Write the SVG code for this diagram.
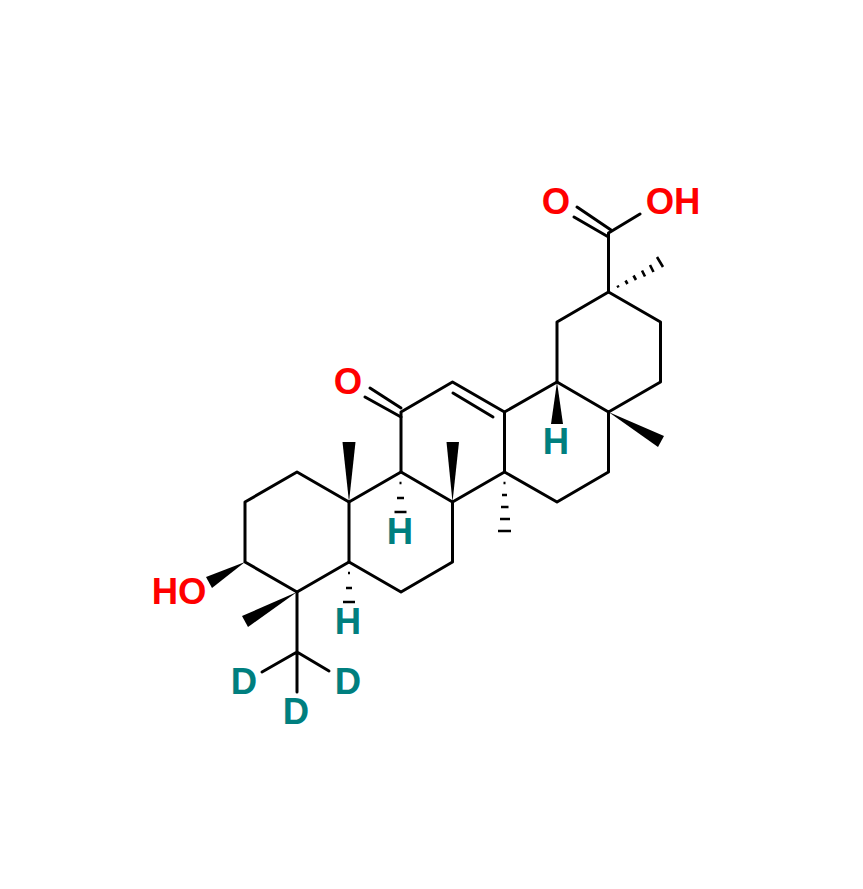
<svg xmlns="http://www.w3.org/2000/svg" width="863" height="889" viewBox="0 0 863 889">
<style>
.b{stroke:#000;stroke-width:3;fill:none;stroke-linecap:round;stroke-linejoin:round}
.h{stroke:#000;stroke-width:2.6;fill:none}
.w{fill:#000;stroke:none}
text{font-family:"Liberation Sans",Arial,sans-serif;font-weight:700;font-size:36.500px;text-anchor:middle}
.r{fill:#f00}
.t{fill:#007f7f}
</style>
<rect width="863" height="889" fill="#fff"/>
<g id="connectors">
<path class="b" d="M608.5 292L660.500 322L660.500 382L608.500 412L557 382L557 322L608.500 292"/>
<path class="b" d="M608.500 412L608.500 472L557 502L504.500 472L504.500 412L557 382"/>
<path class="b" d="M504.500 412L452.500 382L401 412L401 472L452.500 502L504.500 472"/>
<path class="b" d="M401 472L349 502L349 562L401 592L452.500 562L452.500 502"/>
<path class="b" d="M349 502L297 472L245 502L245 562L297 592L349 562"/>
<path class="b" d="M493 417L453 393"/>
<path class="b" d="M401 408L370 388M401 417L365 397"/>
<path class="b" d="M608.500 292L608.500 233L640 214"/>
<path class="b" d="M611 230L577 207M608.500 237L574 217"/>
<path class="b" d="M297 592L297 652L262 672M297 652L329 671M297 652L297 692"/>
<path class="w" d="M349 502L342.500 442L355.500 442Z"/>
<path class="w" d="M452.500 502L446.500 442L459 442Z"/>
<path class="w" d="M557 382L551 424L563 424Z"/>
<path class="w" d="M608.500 412L664 436L658 447Z"/>
<path class="w" d="M245 562L212 588L206 577Z"/>
<path class="w" d="M297 592L248 627L242 616Z"/>
<path class="h" d="M503.500 483h2M502 495h5M501 507h7.500M500 519h10M498 531h13"/>
<path class="h" d="M399.500 483h2M397 498h7M394.500 512h12"/>
<path class="h" d="M348 573h2M346 588h6M343 602h12"/>
<path class="h" d="M617.500 285.500l1 2M625.500 280.500l2 3.500M633.500 275.500l2.500 4.500M642 270.500l3 6M650 265l3.500 7M657 257l6 10"/>
</g>
<g id="n1"><text class="r" x="556" y="214">O</text></g>
<g id="n2"><text class="r" x="673" y="214">OH</text></g>
<g id="n3"><text class="r" x="348" y="394">O</text></g>
<g id="n4"><text class="r" x="179" y="604">HO</text></g>
<g id="n5"><text class="t" x="556" y="454">H</text></g>
<g id="n6"><text class="t" x="400" y="544">H</text></g>
<g id="n7"><text class="t" x="348" y="634">H</text></g>
<g id="n8"><text class="t" x="244" y="694">D</text></g>
<g id="n9"><text class="t" x="348" y="694">D</text></g>
<g id="n10"><text class="t" x="296" y="724">D</text></g>
</svg>
